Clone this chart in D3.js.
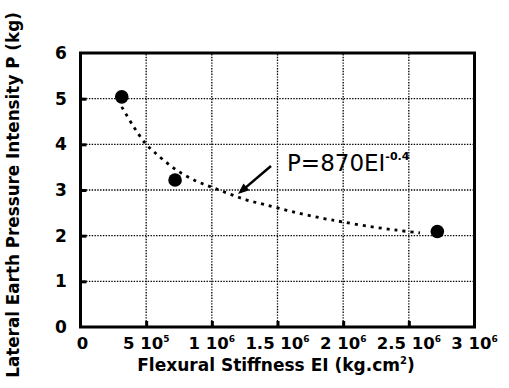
<!DOCTYPE html>
<html>
<head>
<meta charset="utf-8">
<script src="https://cdn.jsdelivr.net/npm/d3@7"></script>
<style>
  html, body { margin: 0; padding: 0; background: #fff; }
  svg { display: block; }
  text { font-family: "DejaVu Sans", Verdana, sans-serif; fill: #000; }
</style>
</head>
<body>
<svg id="chart" width="509" height="388"></svg>
<script>
// ---- data ----
const xTickValues = [0, 5e5, 1e6, 1.5e6, 2e6, 2.5e6, 3e6];
const xTickMantissa = ["0", "5", "1", "1.5", "2", "2.5", "3"];
const xTickExponent = ["", "5", "6", "6", "6", "6", "6"];
const yTickValues = [0, 1, 2, 3, 4, 5, 6];

const pointEI = [3.14e5, 7.2e5, 2.717e6];
const pointP  = [5.04, 3.22, 2.09];

const curveEI = [3.14e5, 4.02e5, 4.91e5, 5.54e5, 6.30e5, 7.45e5, 8.85e5, 1.0e6, 1.138e6, 1.266e6, 1.405e6, 1.62e6, 1.862e6, 2.0e6, 2.204e6, 2.408e6, 2.585e6];
const curveP  = [4.82, 4.40, 4.03, 3.85, 3.66, 3.41, 3.19, 3.06, 2.91, 2.78, 2.68, 2.52, 2.37, 2.30, 2.20, 2.12, 2.06];

const annotationMain = "P=870EI";
const annotationSup = "-0.4";
const xTitle = "Flexural Stiffness EI (kg.cm";
const xTitleSup = "2";
const yTitle = "Lateral Earth Pressure Intensity P (kg)";

// ---- layout ----
const svg = d3.select("#chart");
const L = 80.5, R = 474.5, T = 53, B = 327;
const x = d3.scaleLinear().domain([0, 3e6]).range([L, R]);
const y = d3.scaleLinear().domain([0, 6]).range([B, T]);

// grid
const grid = svg.append("g").attr("stroke", "#000").attr("stroke-width", 1.3).attr("stroke-dasharray", "1.4,1.4");
grid.selectAll("line.v").data(xTickValues.slice(1, -1)).enter().append("line")
  .attr("x1", d => x(d)).attr("x2", d => x(d)).attr("y1", B).attr("y2", T);
grid.selectAll("line.h").data(yTickValues.slice(1, -1)).enter().append("line")
  .attr("y1", d => y(d)).attr("y2", d => y(d)).attr("x1", L).attr("x2", R);

// axes with inward ticks
const yAxis = d3.axisLeft(y).tickValues(yTickValues.slice(1, -1)).tickSize(-6).tickFormat("");
const gy = svg.append("g").attr("transform", `translate(${L},0)`).call(yAxis);
gy.select(".domain").remove();
gy.selectAll(".tick line").attr("stroke", "#000").attr("stroke-width", 3);

const xAxis = d3.axisBottom(x).tickValues(xTickValues.slice(1, -1)).tickSize(-6).tickFormat("");
const gx = svg.append("g").attr("transform", `translate(0,${B})`).call(xAxis);
gx.select(".domain").remove();
gx.selectAll(".tick line").attr("stroke", "#000").attr("stroke-width", 3);

// frame
svg.append("rect").attr("x", L).attr("y", T).attr("width", R - L).attr("height", B - T)
  .attr("fill", "none").attr("stroke", "#000").attr("stroke-width", 3);

// y tick labels
svg.append("g").selectAll("text").data(yTickValues).enter().append("text")
  .attr("x", 61).attr("y", d => y(d)).attr("dy", "0.36em")
  .attr("text-anchor", "middle").attr("font-size", 17).attr("font-weight", "bold")
  .text(d => d);

// x tick labels
const xl = svg.append("g").selectAll("text").data(xTickValues).enter().append("text")
  .attr("x", (d, i) => x(d) + (i === 0 ? 2 : 0)).attr("y", 349)
  .attr("text-anchor", "middle").attr("font-size", 16.5).attr("font-weight", "bold");
xl.append("tspan").text((d, i) => xTickMantissa[i] + (xTickExponent[i] ? " 10" : ""));
xl.append("tspan").attr("dy", -7).attr("font-size", 9).text((d, i) => xTickExponent[i]);

// axis titles
const xt = svg.append("text").attr("x", 276).attr("y", 371).attr("text-anchor", "middle")
  .attr("font-size", 17).attr("font-weight", "bold");
xt.append("tspan").text(xTitle);
xt.append("tspan").attr("dy", -7).attr("font-size", 10).text(xTitleSup);
xt.append("tspan").attr("dy", 7).text(")");

svg.append("text").attr("transform", "translate(19,195) rotate(-90)")
  .attr("text-anchor", "middle").attr("font-size", 16.8).attr("font-weight", "bold")
  .text(yTitle);

// fitted curve (dotted)
const line = d3.line().x(d => x(d[0])).y(d => y(d[1])).curve(d3.curveCatmullRom);
svg.append("path").datum(curveEI.map((v, i) => [v, curveP[i]]))
  .attr("d", line).attr("fill", "none").attr("stroke", "#000")
  .attr("stroke-width", 2.8).attr("stroke-dasharray", "3,5");

// data points
svg.append("g").selectAll("circle").data(pointEI).enter().append("circle")
  .attr("cx", d => x(d)).attr("cy", (d, i) => y(pointP[i])).attr("r", 6.8).attr("fill", "#000");

// annotation arrow
const ax1 = 271, ay1 = 166, ax2 = 238, ay2 = 194;
const ang = Math.atan2(ay2 - ay1, ax2 - ax1);
svg.append("line").attr("x1", ax1).attr("y1", ay1)
  .attr("x2", ax2 - 6 * Math.cos(ang)).attr("y2", ay2 - 6 * Math.sin(ang))
  .attr("stroke", "#000").attr("stroke-width", 2.5);
const hl = 11, hw = 4.5;
const bx = ax2 - hl * Math.cos(ang), by = ay2 - hl * Math.sin(ang);
svg.append("path").attr("d",
  `M${ax2},${ay2} L${bx + hw * Math.sin(ang)},${by - hw * Math.cos(ang)} L${bx - hw * Math.sin(ang)},${by + hw * Math.cos(ang)} Z`)
  .attr("fill", "#000");

const at = svg.append("text").attr("x", 287).attr("y", 171).attr("font-size", 23);
at.append("tspan").text(annotationMain);
at.append("tspan").attr("dy", -11).attr("font-size", 11).attr("font-weight", "bold").text(annotationSup);
</script>
</body>
</html>
